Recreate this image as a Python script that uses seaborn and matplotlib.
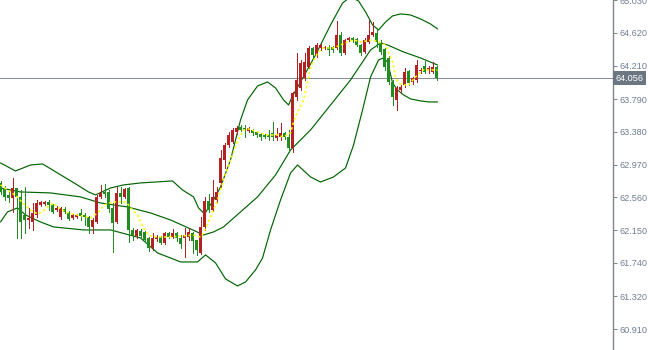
import numpy as np
import matplotlib
matplotlib.use("Agg")
import matplotlib.pyplot as plt
import matplotlib.transforms as mtransforms
import seaborn as sns

# ---- candle data (price) ----
opens = [62.741, 62.678, 62.591, 62.553, 62.678, 62.566, 62.340, 62.277, 62.252, 62.340,
         62.465, 62.478, 62.503, 62.465, 62.403, 62.315, 62.415, 62.378, 62.302, 62.315,
         62.365, 62.340, 62.315, 62.190, 62.252, 62.566, 62.628, 62.628, 62.428, 62.252,
         62.616, 62.566, 62.678, 62.152, 62.077, 62.140, 62.127, 62.052, 61.927, 62.039,
         62.064, 61.989, 62.114, 62.064, 62.114, 62.052, 62.052, 62.064, 62.114, 62.027,
         61.864, 62.190, 62.515, 62.403, 62.528, 62.741, 63.029, 63.217, 63.255, 63.380,
         63.443, 63.430, 63.393, 63.405, 63.380, 63.355, 63.342, 63.342, 63.368, 63.305,
         63.317, 63.368, 63.317, 63.180, 63.819, 63.931, 64.057, 64.194, 64.433, 64.345,
         64.433, 64.433, 64.445, 64.445, 64.433, 64.595, 64.370, 64.533, 64.558, 64.545,
         64.470, 64.382, 64.508, 64.595, 64.620, 64.508, 64.420, 64.307, 64.007, 63.781,
         63.906, 63.969, 64.144, 64.007, 64.032, 64.144, 64.207, 64.157, 64.132, 64.194]
highs = [62.766, 62.703, 62.653, 62.804, 62.678, 62.653, 62.691, 62.428, 62.490, 62.528,
         62.515, 62.515, 62.528, 62.478, 62.453, 62.440, 62.440, 62.390, 62.352, 62.352,
         62.415, 62.365, 62.327, 62.302, 62.591, 62.716, 62.728, 62.653, 62.490, 62.691,
         62.691, 62.678, 62.691, 62.177, 62.165, 62.165, 62.140, 62.064, 62.114, 62.089,
         62.077, 62.127, 62.127, 62.165, 62.127, 62.089, 62.177, 62.177, 62.127, 62.027,
         62.315, 62.566, 62.603, 62.778, 62.691, 63.154, 63.242, 63.380, 63.430, 63.455,
         63.468, 63.468, 63.443, 63.418, 63.393, 63.368, 63.355, 63.405, 63.505, 63.430,
         63.493, 63.380, 63.405, 63.881, 64.370, 64.282, 64.370, 64.458, 64.445, 64.495,
         64.483, 64.458, 64.470, 64.458, 64.771, 64.633, 64.545, 64.570, 64.570, 64.558,
         64.483, 64.558, 64.783, 64.758, 64.658, 64.533, 64.433, 64.332, 64.032, 63.956,
         63.969, 64.182, 64.157, 64.069, 64.282, 64.182, 64.270, 64.207, 64.257, 64.207]
lows = [62.603, 62.528, 62.503, 62.378, 62.052, 62.052, 62.114, 62.177, 62.152, 62.315,
        62.453, 62.465, 62.403, 62.365, 62.390, 62.290, 62.365, 62.277, 62.290, 62.302,
        62.277, 62.215, 62.114, 62.114, 62.240, 62.553, 62.566, 62.378, 61.876, 62.240,
        62.490, 62.553, 62.002, 62.027, 62.052, 62.052, 62.002, 61.889, 61.901, 62.014,
        61.977, 61.977, 62.052, 62.052, 62.014, 61.927, 61.814, 62.027, 61.864, 61.839,
        61.851, 62.152, 62.378, 62.390, 62.503, 62.691, 62.929, 63.192, 63.242, 63.355,
        63.393, 63.317, 63.380, 63.342, 63.317, 63.280, 63.305, 63.280, 63.280, 63.280,
        63.280, 63.292, 63.129, 63.129, 63.781, 63.906, 64.032, 64.182, 64.320, 64.320,
        64.408, 64.420, 64.345, 64.382, 64.420, 64.345, 64.357, 64.520, 64.508, 64.458,
        64.345, 64.370, 64.495, 64.583, 64.445, 64.357, 64.157, 63.982, 63.718, 63.656,
        63.881, 63.944, 63.969, 63.982, 64.007, 64.119, 64.119, 64.119, 64.119, 64.032]
closes = [62.628, 62.566, 62.553, 62.678, 62.566, 62.252, 62.277, 62.302, 62.365, 62.490,
          62.503, 62.503, 62.465, 62.378, 62.428, 62.428, 62.378, 62.290, 62.340, 62.340,
          62.327, 62.315, 62.190, 62.277, 62.566, 62.616, 62.603, 62.415, 62.240, 62.616,
          62.566, 62.666, 62.152, 62.089, 62.152, 62.077, 62.027, 61.927, 62.052, 62.064,
          61.989, 62.114, 62.064, 62.114, 62.052, 61.977, 62.089, 62.127, 62.014, 61.901,
          62.190, 62.515, 62.403, 62.566, 62.628, 63.054, 63.217, 63.342, 63.405, 63.430,
          63.405, 63.405, 63.430, 63.368, 63.342, 63.317, 63.317, 63.317, 63.317, 63.342,
          63.368, 63.317, 63.180, 63.869, 64.032, 64.245, 64.257, 64.433, 64.345, 64.470,
          64.470, 64.445, 64.408, 64.408, 64.595, 64.370, 64.533, 64.558, 64.533, 64.470,
          64.370, 64.533, 64.595, 64.633, 64.508, 64.382, 64.194, 64.007, 63.819, 63.931,
          63.944, 64.132, 63.994, 64.057, 64.219, 64.157, 64.132, 64.182, 64.194, 64.056]

# ---- Bollinger bands (bar position, price) ----
upper_x = [0, 3.75, 7.5, 10.5, 14.25, 18, 22, 23.75, 27.5, 30.75, 35, 43, 45.5, 48.25, 49.5,
           51, 53.25, 55, 57.5, 60, 61.75, 64.25, 66.75, 68.75, 70.75, 72, 73, 75, 78.75,
           82.5, 85.5, 87.5, 89.5, 91.25, 93, 94.5, 96.25, 98, 100, 102.5, 105, 107.5, 109.25]
upper_y = [62.992, 62.891, 62.966, 62.979, 62.866, 62.753, 62.628, 62.591, 62.678, 62.716,
           62.741, 62.766, 62.653, 62.566, 62.428, 62.352, 62.528, 62.691, 63.029, 63.530,
           63.781, 63.956, 64.007, 63.931, 63.781, 63.718, 63.831, 64.007, 64.345, 64.721,
           64.996, 65.072, 65.021, 64.884, 64.721, 64.658, 64.758, 64.834, 64.859, 64.846,
           64.796, 64.733, 64.671]
middle_x = [0, 5, 12.5, 20, 25, 31.75, 37.5, 42.5, 47.5, 50.75, 53.25, 55.75, 60, 64.25,
            68.75, 72.5, 77.5, 82.5, 87.5, 92.5, 95, 96.75, 100.75, 105, 109.25]
middle_y = [62.678, 62.628, 62.616, 62.566, 62.490, 62.440, 62.365, 62.277, 62.165, 62.089,
            62.127, 62.190, 62.378, 62.566, 62.841, 63.154, 63.405, 63.718, 64.032, 64.408,
            64.495, 64.470, 64.382, 64.307, 64.219]
lower_x = [0, 1.75, 4.25, 6.25, 10, 13.25, 20.75, 27.5, 35, 39.25, 42.5, 45, 49.25, 51.25,
           53.75, 56.25, 59.25, 61.25, 63.75, 65.5, 67.5, 70, 72.5, 74.25, 77.5, 80, 83.25,
           86.25, 88.25, 90.5, 92.5, 94.5, 95.75, 96.75, 98, 99.25, 100.75, 102.5, 105, 107,
           109.25]
lower_y = [62.252, 62.378, 62.428, 62.340, 62.252, 62.190, 62.152, 62.152, 62.052, 61.864,
           61.801, 61.751, 61.751, 61.839, 61.739, 61.538, 61.450, 61.500, 61.651, 61.801,
           62.152, 62.528, 62.866, 62.966, 62.816, 62.753, 62.816, 62.929, 63.217, 63.656,
           64.069, 64.282, 64.307, 64.257, 63.994, 63.906, 63.844, 63.794, 63.769, 63.756,
           63.756]

# ---- yellow moving average (bar position, price) ----
ma_x = [0, 4.25, 5.5, 7.5, 9.25, 10.5, 11.75, 13.25, 14.25, 16.25, 18, 20.5, 22.5, 24.25,
        25.5, 26.75, 28.75, 31.25, 32, 33, 34.25, 35, 35.75, 37, 38.25, 41.75, 45.5, 48, 50,
        50.75, 52.5, 54.25, 55.75, 57.5, 59.25, 60.75, 62, 64.25, 66.75, 69.25, 70.75, 72.5,
        73.25, 74.25, 75.75, 76.75, 77.5, 79.25, 80.75, 83.25, 85, 86.75, 88.25, 90, 93,
        94.5, 96.25, 97, 98, 98.75, 99.5, 100.5, 102, 103.75, 105.5, 107, 109.25]
ma_y = [62.716, 62.566, 62.490, 62.403, 62.352, 62.378, 62.440, 62.490, 62.440, 62.378,
        62.352, 62.327, 62.302, 62.365, 62.440, 62.490, 62.503, 62.503, 62.465, 62.403,
        62.340, 62.252, 62.177, 62.089, 62.064, 62.064, 62.077, 62.089, 62.064, 62.114,
        62.315, 62.528, 62.778, 63.029, 63.255, 63.405, 63.418, 63.380, 63.342, 63.342,
        63.317, 63.368, 63.505, 63.631, 63.781, 63.994, 64.194, 64.370, 64.433, 64.433,
        64.470, 64.508, 64.533, 64.508, 64.533, 64.508, 64.470, 64.370, 64.257, 64.069,
        63.994, 63.969, 63.969, 64.069, 64.157, 64.157, 64.157]

tick_values = [65.030, 64.620, 64.210, 63.790, 63.380, 62.970, 62.560, 62.150, 61.740, 61.320, 60.910]
tick_labels = ["65.030", "64.620", "64.210", "63.790", "63.380", "62.970", "62.560",
               "62.150", "61.740", "61.320", "60.910"]
last_price = 64.056
last_label = "64.056"

# ---- style ----
sns.set_theme(style="white")
plt.rcParams['font.family'] = ['Liberation Sans', 'DejaVu Sans']

RED = "#b22222"
GREEN = "#228b22"
BAND = "#006400"
AXIS = "#7c8590"
LABEL = "#6f7f92"
PX = 0.72  # one pixel line at 100 dpi

fig = plt.figure(figsize=(6.48, 3.5), dpi=100)
fig.patch.set_facecolor("white")
ax = fig.add_axes([0, 0, 613 / 648, 1])
ax.set_facecolor("white")

# bands
for bx, by in ((upper_x, upper_y), (middle_x, middle_y), (lower_x, lower_y)):
    sns.lineplot(x=bx, y=by, ax=ax, color=BAND, linewidth=0.85, sort=False,
                 estimator=None, zorder=2)

# candles
o = np.array(opens); c = np.array(closes)
h = np.array(highs); l = np.array(lows)
idx = np.arange(len(o))
col = np.where(c >= o, RED, GREEN)
ax.vlines(idx, l, h, colors=col, linewidth=PX, zorder=3, antialiased=False)
body_bottom = np.minimum(o, c)
body_h = np.maximum(np.abs(c - o), 0.014)
ax.bar(idx, body_h, bottom=body_bottom, width=0.7, color=col, linewidth=0, zorder=4)

# moving average (yellow dotted)
ax.plot(ma_x, ma_y, color="#ffff00", linewidth=1.1, linestyle=(0, (1.6, 1.6)), zorder=5)

# current price line
ax.axhline(last_price, color="#858d96", linewidth=PX, zorder=1, antialiased=False)

ax.set_xlim(-0.125, 153.1)
ax.set_ylim(60.6476, 65.0335)

for s in ("left", "top", "bottom"):
    ax.spines[s].set_visible(False)
ax.spines["right"].set_color(AXIS)
ax.spines["right"].set_linewidth(1.0)
ax.set_xticks([])
ax.yaxis.tick_right()
ax.set_yticks(tick_values)
ax.set_yticklabels(tick_labels)
ax.tick_params(axis="y", which="both", right=True, left=False, length=3, width=PX,
               color=AXIS, labelcolor=LABEL, labelsize=6.6, pad=1.5)
ax.set_xlabel("")
ax.set_ylabel("")
if ax.get_legend() is not None:
    ax.get_legend().remove()

trans = mtransforms.blended_transform_factory(ax.transAxes, ax.transData)
ax.text(1.004, last_price, last_label, transform=trans, ha="left", va="center",
        fontsize=6.6, color="white", clip_on=False, zorder=10,
        bbox=dict(boxstyle="square,pad=0.28", fc="#6b7683", ec="none"))

fig.savefig("out.png", dpi=100)
